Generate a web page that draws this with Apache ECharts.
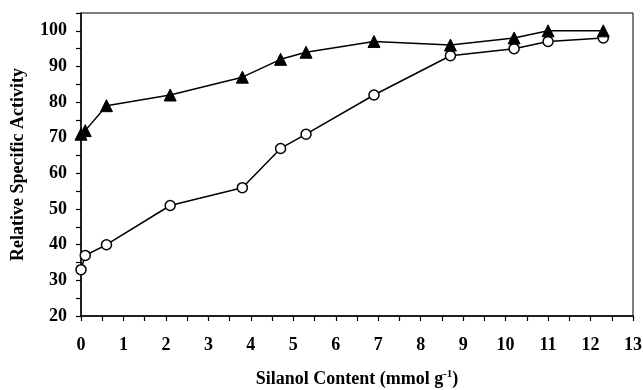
<!DOCTYPE html>
<html>
<head>
<meta charset="utf-8">
<script src="https://cdn.jsdelivr.net/npm/echarts@6/dist/echarts.min.js"></script>
<style>
  html, body { margin: 0; padding: 0; background: #fff; }
  #chart { width: 643px; height: 390px; }
</style>
</head>
<body>
<div id="chart"></div>
<script>
// silanol content (mmol g-1)
var silanol = [0, 0.1, 0.6, 2.1, 3.8, 4.7, 5.3, 6.9, 8.7, 10.2, 11.0, 12.3];
// relative specific activity
var triangleSeries = [71, 72, 79, 82, 87, 92, 94, 97, 96, 98, 100, 100];
var circleSeries = [33, 37, 40, 51, 56, 67, 71, 82, 93, 95, 97, 98];

function pairs(xs, ys) {
  return xs.map(function (x, i) { return [x, ys[i]]; });
}

var chart = echarts.init(document.getElementById("chart"));
var font = "'Liberation Serif', 'Times New Roman', serif";

var option = {
  animation: false,
  grid: {
    left: 81, right: 10, top: 13, bottom: 74,
    outerBoundsMode: "none",
    show: true, borderColor: "#000", borderWidth: 1
  },
  xAxis: {
    type: "value",
    min: 0, max: 13, interval: 0.5,
    name: "{b|Silanol Content (mmol g}{sup|-1}{b|)}",
    nameLocation: "middle",
    nameGap: 53,
    nameTextStyle: {
      rich: {
        b: { fontFamily: font, fontWeight: "bold", fontSize: 18, color: "#000" },
        sup: { fontFamily: font, fontWeight: "bold", fontSize: 11, color: "#000", verticalAlign: "bottom", padding: [0, 0, 9, 0] }
      }
    },
    axisLine: { lineStyle: { color: "#000", width: 1.5 } },
    axisTick: { length: 5, lineStyle: { color: "#000", width: 1.2 } },
    splitLine: { show: false },
    axisLabel: {
      margin: 20,
      fontFamily: font, fontWeight: "bold", fontSize: 18, color: "#000",
      formatter: function (v) { return v % 1 === 0 ? String(v) : ""; }
    }
  },
  yAxis: {
    type: "value",
    min: 20, max: 105, interval: 5,
    name: "Relative Specific Activity",
    nameLocation: "middle",
    nameGap: 54,
    nameTextStyle: { fontFamily: font, fontWeight: "bold", fontSize: 18, color: "#000" },
    axisLine: { show: true, lineStyle: { color: "#000", width: 1.5 } },
    axisTick: { show: true, length: 5, lineStyle: { color: "#000", width: 1.2 } },
    splitLine: { show: false },
    axisLabel: {
      margin: 14,
      fontFamily: font, fontWeight: "bold", fontSize: 18, color: "#000",
      formatter: function (v) { return v % 10 === 0 ? String(v) : ""; }
    }
  },
  series: [
    {
      type: "line",
      data: pairs(silanol, circleSeries),
      symbol: "circle",
      symbolSize: 10,
      itemStyle: { color: "#fff", borderColor: "#000", borderWidth: 1.5 },
      lineStyle: { color: "#000", width: 1.5 }
    },
    {
      type: "line",
      data: pairs(silanol, triangleSeries),
      symbol: "triangle",
      symbolSize: 12,
      itemStyle: { color: "#000", borderColor: "#000", borderWidth: 1 },
      lineStyle: { color: "#000", width: 1.5 }
    }
  ]
};

option && chart.setOption(option);
</script>
</body>
</html>
